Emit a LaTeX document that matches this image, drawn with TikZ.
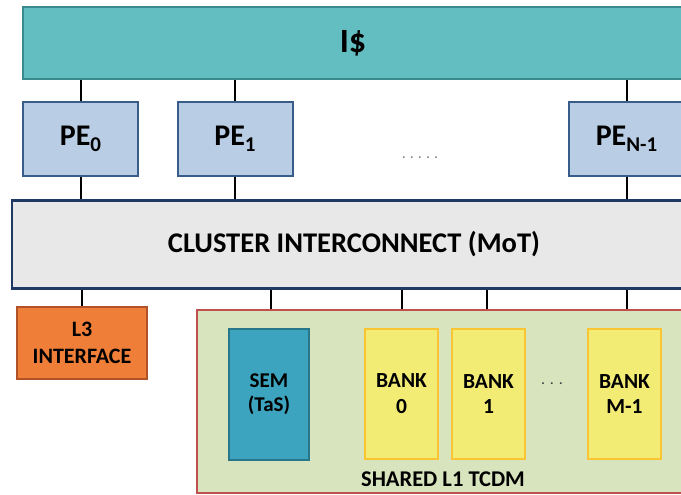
\documentclass[tikz,border=0pt]{standalone}
\usepackage{fontspec}
\setmainfont{Carlito}
\definecolor{cacheFill}{RGB}{99,190,193}
\definecolor{cacheLine}{RGB}{58,138,141}
\definecolor{peFill}{RGB}{185,205,229}
\definecolor{peLine}{RGB}{56,93,138}
\definecolor{icFill}{RGB}{232,232,232}
\definecolor{icLine}{RGB}{31,56,100}
\definecolor{lthreeFill}{RGB}{239,127,56}
\definecolor{lthreeLine}{RGB}{178,82,40}
\definecolor{tcdmFill}{RGB}{215,228,189}
\definecolor{tcdmLine}{RGB}{192,80,77}
\definecolor{semFill}{RGB}{60,164,190}
\definecolor{semLine}{RGB}{40,118,138}
\definecolor{bankFill}{RGB}{242,236,117}
\definecolor{bankLine}{RGB}{250,196,50}
\newcommand{\fsz}[1]{\fontsize{#1}{#1}\selectfont}
% index set below the baseline of a PE label
\newcommand{\pesub}[1]{\raisebox{-6pt}{\fsz{21}#1}}
\tikzset{
  x=1pt, y=-1pt,
  blk/.style={rectangle, inner sep=0pt, line width=2pt, align=center, font=\bfseries},
  pebox/.style={blk, fill=peFill, draw=peLine, minimum width=115pt, minimum height=74pt, font=\bfseries\fsz{30}},
  bankbox/.style={blk, fill=bankFill, draw=bankLine, minimum width=73pt, minimum height=130pt, font=\bfseries\fsz{21.5}\linespread{1.2}\selectfont},
  wire/.style={line width=2pt, black},
  dots/.style={text=gray, font=\fsz{16}}
}
\begin{document}
\begin{tikzpicture}
\useasboundingbox (0,0) rectangle (681,495);
\clip (0,0) rectangle (681,495);
% instruction cache
\node[blk, fill=cacheFill, draw=cacheLine, minimum width=660pt, minimum height=72pt, font=\bfseries\fsz{34}] (icache) at (353,43) {I\$};
% processing elements
\node[pebox] (pe0) at (80.5,139) {PE\pesub{0}};
\node[pebox] (pe1) at (235,139) {PE\pesub{1}};
\node[pebox] (pen) at (626.5,139) {PE\pesub{N-1}};
\node[dots] (pedots) at (420,158) {\addfontfeature{LetterSpace=25}.....};
% interconnect
\node[blk, fill=icFill, draw=icLine, line width=2.5pt, minimum width=684pt, minimum height=88pt, font=\bfseries\fsz{28.5}] (ic) at (354,244.5) {CLUSTER INTERCONNECT (MoT)};
% L3 interface
\node[blk, fill=lthreeFill, draw=lthreeLine, minimum width=130pt, minimum height=72pt, font=\bfseries\fsz{22}\linespread{1.2}\selectfont] (lthree) at (82,343) {L3\\INTERFACE};
% shared L1 TCDM
\node[blk, fill=tcdmFill, draw=tcdmLine, minimum width=492pt, minimum height=183pt] (tcdm) at (443,401.5) {};
\node[font=\bfseries\fsz{22.5}, anchor=base] (tcdmlbl) at (443,486) {SHARED L1 TCDM};
\node[blk, fill=semFill, draw=semLine, minimum width=80pt, minimum height=131pt, font=\bfseries\fsz{21}\linespread{1.15}\selectfont] (sem) at (269,394.5) {SEM\\(TaS)};
\node[bankbox] (bank0) at (401.5,394) {BANK\\0};
\node[bankbox] (bank1) at (488.5,394) {BANK\\1};
\node[bankbox] (bankm) at (624.5,394) {BANK\\M-1};
\node[dots, text=darkgray] (bankdots) at (552,384) {\addfontfeature{LetterSpace=30}...};
% connections
\foreach \p in {pe0,pe1,pen} {
  \draw[wire] (icache.south -| \p) -- (\p.north);
  \draw[wire] (\p.south) -- (ic.north -| \p);
}
\draw[wire] (ic.south -| lthree) -- (lthree.north);
\draw[wire] ([xshift=2pt]ic.south -| sem) -- ([xshift=2pt]tcdm.north -| sem);
\draw[wire] (ic.south -| bank0) -- (tcdm.north -| bank0);
\draw[wire] ([xshift=-2pt]ic.south -| bank1) -- ([xshift=-2pt]tcdm.north -| bank1);
\draw[wire] ([xshift=2.5pt]ic.south -| bankm) -- ([xshift=2.5pt]tcdm.north -| bankm);
\end{tikzpicture}
\end{document}
